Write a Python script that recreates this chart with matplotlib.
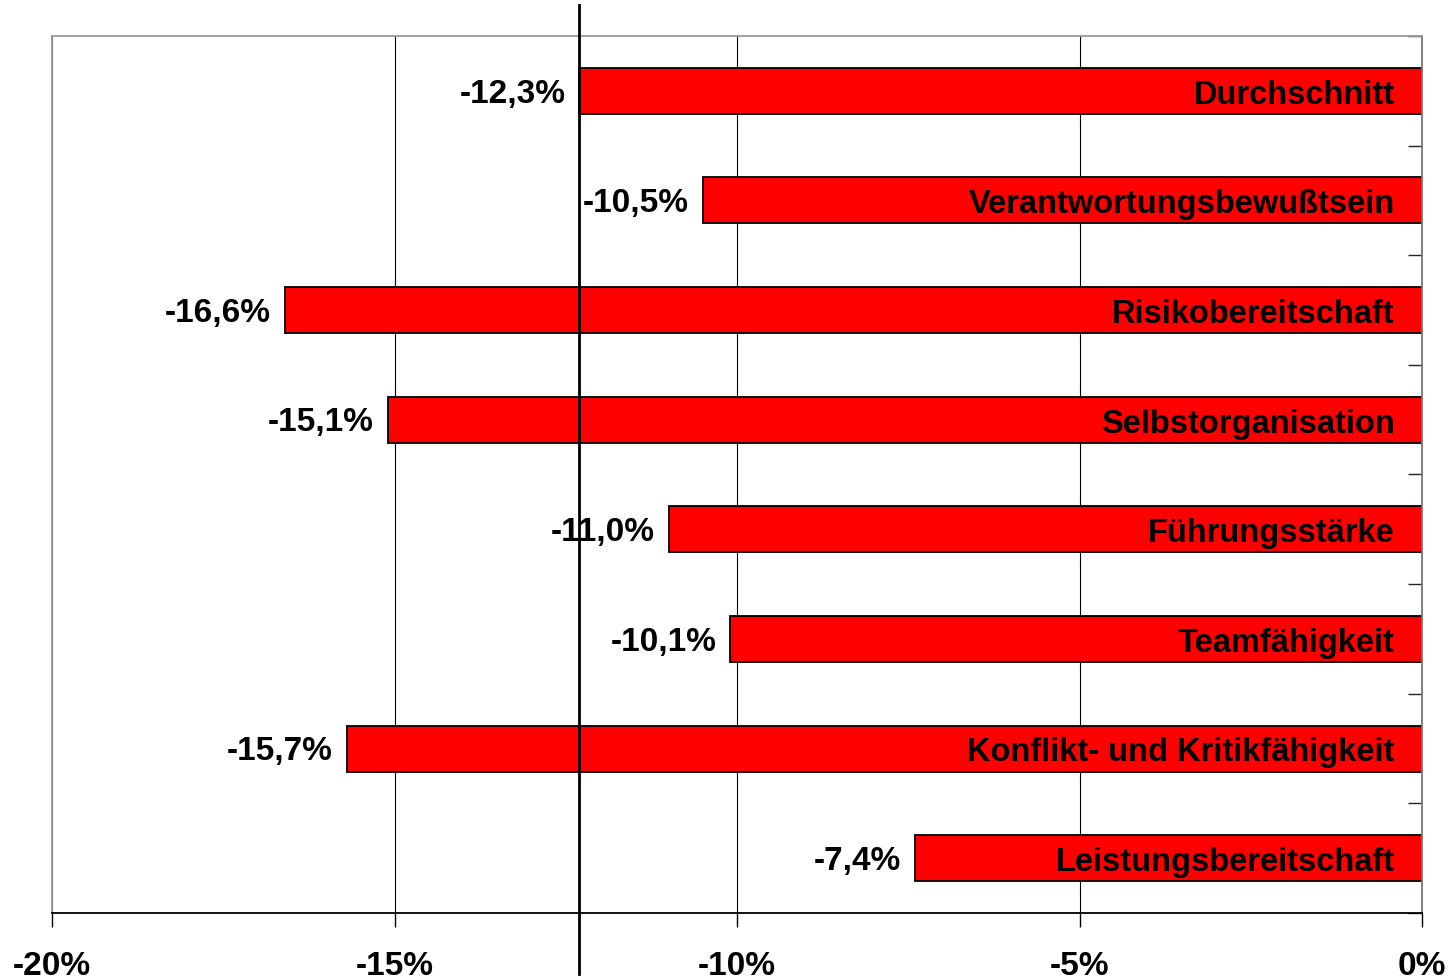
import matplotlib
matplotlib.use("Agg")
import matplotlib.pyplot as plt
from matplotlib.ticker import FixedLocator

plt.rcParams["font.family"] = ["Liberation Sans", "DejaVu Sans"]
plt.rcParams["font.weight"] = "bold"

categories = ["Durchschnitt", "Verantwortungsbewußtsein", "Risikobereitschaft",
              "Selbstorganisation", "Führungsstärke", "Teamfähigkeit",
              "Konflikt- und Kritikfähigkeit", "Leistungsbereitschaft"]
values = [-12.3, -10.5, -16.6, -15.1, -11.0, -10.1, -15.7, -7.4]
average = -12.3
xticks = [-20, -15, -10, -5, 0]
xtick_labels = ["-20%", "-15%", "-10%", "-5%", "0%"]

fig = plt.figure(figsize=(14.52, 9.8), dpi=100)
ax = fig.add_axes([52 / 1452, 1 - 913 / 980, 1370 / 1452, 877 / 980])

n = len(categories)
ypos = list(range(n))
ax.barh(ypos, values, height=0.42, color="#ff0000", edgecolor="black",
        linewidth=1.3, zorder=2)

ax.set_xlim(-20, 0)
ax.set_ylim(n - 0.5, -0.5)

for y, v, name in zip(ypos, values, categories):
    ax.text(v - 0.2, y + 0.03, f"{v:.1f}%".replace(".", ","), ha="right", va="center",
            fontsize=24, fontweight="bold", zorder=4)
    ax.text(-0.4, y + 0.04, name, ha="right", va="center",
            fontsize=23.5, fontweight="bold", zorder=4)

# average marker line running past the plot area
ax.plot([average, average], [-0.78, n - 0.5 + 0.56], color="black", lw=2,
        clip_on=False, zorder=5)

ax.xaxis.set_major_locator(FixedLocator(xticks))
ax.set_xticklabels(xtick_labels, fontsize=24, fontweight="bold")
ax.tick_params(axis="x", direction="out", length=10, width=1, pad=17, colors="black")
ax.grid(axis="x", color="black", lw=0.8, zorder=0)
ax.set_axisbelow(True)

ax.yaxis.set_ticks_position("right")
ax.set_yticks([i - 0.5 for i in range(n + 1)])
ax.set_yticklabels([])
ax.tick_params(axis="y", direction="in", length=10, width=1, colors="#222222")

ax.spines["left"].set_color("#999999")
ax.spines["top"].set_color("#999999")
ax.spines["right"].set_color("#777777")
ax.spines["bottom"].set_color("black")
for s in ax.spines.values():
    s.set_linewidth(1.3)

fig.savefig("out.png", dpi=100)
